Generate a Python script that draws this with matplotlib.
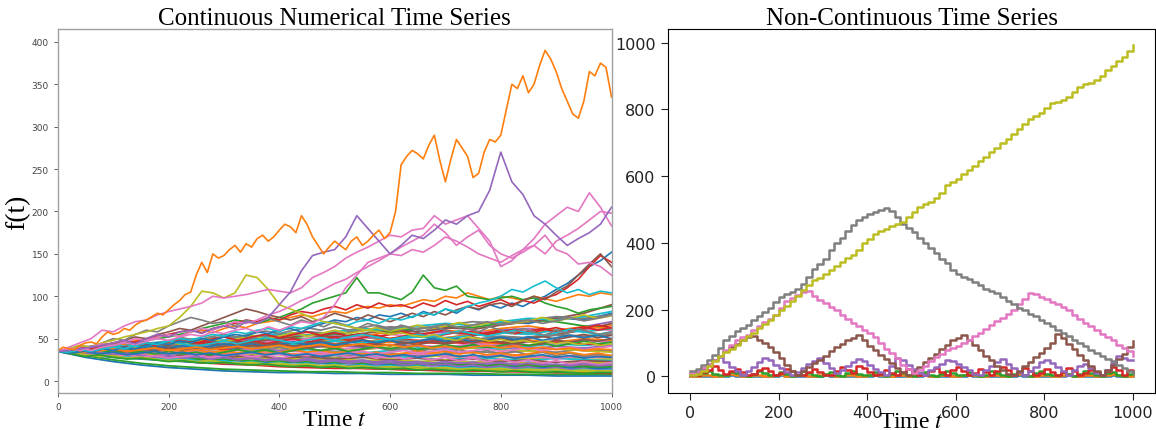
import numpy as np
import matplotlib
matplotlib.use("Agg")
import matplotlib.pyplot as plt

plt.rcParams['mathtext.fontset'] = 'stix'
serif = 'Liberation Serif'

# ---------- continuous series (left panel) ----------
t_10 = np.arange(0, 1001, 10)       # 101 samples
t_20 = np.arange(0, 1001, 20)       # 51 samples
t_25 = np.arange(0, 1001, 25)       # 41 samples
t_50 = np.arange(0, 1001, 50)       # 21 samples

# the run-away walk, every 10 steps
walk_orange_top = [36, 40, 38, 37, 42, 45, 46, 44, 52, 58, 55, 57, 62, 60, 66, 70, 72, 76, 80, 78,
                   84, 90, 95, 102, 105, 125, 140, 128, 150, 145, 148, 155, 160, 152, 162, 158, 168, 172, 165, 170,
                   178, 185, 182, 175, 195, 185, 170, 160, 150, 158, 165, 160, 155, 165, 170, 160, 165, 172, 178, 168,
                   175, 200, 255, 265, 272, 268, 262, 278, 290, 260, 235, 262, 285, 275, 265, 240, 245, 270, 285, 282,
                   290, 320, 350, 345, 360, 340, 350, 372, 390, 380, 365, 345, 330, 315, 310, 330, 365, 360, 375, 370,
                   335]

# other highlighted walks, every 20 steps
walk_purple = [35, 36, 38, 40, 42, 45, 48, 44, 50, 55, 52, 58, 60, 56, 62, 65, 62, 70, 68, 75,
               90, 105, 130, 148, 152, 155, 170, 195, 180, 165, 150, 160, 172, 168, 178, 190, 185, 195, 200, 225,
               270, 235, 220, 195, 185, 172, 160, 168, 175, 185, 205]
walk_pink_a = [35, 40, 45, 50, 60, 58, 65, 70, 72, 78, 82, 85, 88, 92, 100, 98, 100, 102, 105, 108,
               106, 104, 110, 122, 128, 135, 145, 152, 158, 165, 172, 170, 178, 180, 195, 185, 190, 195, 180, 165,
               135, 142, 155, 168, 185, 195, 205, 200, 222, 205, 183]
walk_pink_b = [35, 37, 39, 36, 40, 42, 45, 43, 47, 50, 48, 52, 55, 53, 58, 56, 60, 62, 58, 64,
               60, 65, 70, 68, 75, 90, 110, 125, 140, 145, 150, 158, 165, 172, 185, 175, 160, 170, 178, 160,
               150, 145, 152, 160, 172, 155, 150, 138, 140, 135, 125]
walk_pink_c = [35, 38, 36, 40, 44, 42, 46, 50, 48, 52, 55, 53, 58, 62, 60, 65, 70, 68, 72, 78,
               82, 88, 95, 100, 108, 115, 120, 128, 135, 142, 150, 148, 155, 152, 160, 170, 165, 158, 150, 145,
               140, 148, 155, 160, 150, 165, 172, 180, 190, 200, 198]
walk_olive = [35, 38, 42, 40, 45, 48, 52, 55, 58, 62, 65, 75, 88, 106, 104, 98, 104, 125, 122, 108,
              90, 85, 80, 74, 70, 68, 65, 62, 60, 58, 55, 57, 54, 52, 55, 50, 48, 52, 50, 47,
              49, 46, 48, 45, 47, 44, 46, 43, 45, 42, 44]
walk_green = [35, 36, 38, 37, 40, 42, 45, 43, 48, 50, 52, 55, 58, 62, 65, 68, 72, 70, 68, 72,
              75, 80, 85, 92, 96, 100, 104, 122, 104, 104, 100, 96, 105, 125, 110, 107, 112, 100, 98, 96,
              98, 100, 96, 98, 92, 88, 85, 80, 84, 86, 88]
walk_red = [35, 37, 40, 38, 42, 45, 48, 46, 50, 53, 55, 58, 60, 57, 62, 65, 68, 72, 70, 75,
            72, 78, 82, 80, 85, 88, 84, 90, 86, 92, 88, 90, 86, 92, 88, 95, 90, 94, 88, 92,
            96, 90, 95, 92, 98, 102, 110, 120, 135, 148, 140]
walk_brown = [35, 38, 36, 40, 44, 42, 48, 52, 50, 55, 58, 62, 60, 65, 70, 75, 80, 85, 82, 78,
              75, 72, 76, 70, 74, 80, 76, 72, 78, 74, 70, 75, 80, 76, 82, 78, 84, 88, 85, 90,
              92, 88, 95, 100, 96, 105, 112, 125, 138, 150, 135]
walk_cyan = [35, 34, 37, 35, 38, 40, 38, 42, 45, 43, 47, 50, 48, 52, 55, 53, 58, 56, 60, 62,
             58, 64, 62, 66, 70, 68, 65, 70, 72, 68, 74, 72, 76, 80, 78, 85, 82, 88, 92, 95,
             100, 108, 105, 112, 118, 110, 104, 108, 102, 106, 104]
walk_blue = [35, 33, 36, 34, 38, 36, 40, 38, 42, 45, 43, 47, 45, 50, 48, 52, 55, 53, 58, 56,
             60, 62, 58, 64, 68, 72, 70, 75, 72, 78, 76, 80, 75, 82, 78, 85, 80, 88, 84, 90,
             86, 92, 88, 95, 100, 108, 115, 125, 135, 142, 152]
walk_gray = [35, 38, 42, 40, 45, 50, 48, 55, 60, 58, 65, 70, 75, 72, 68, 70, 65, 72, 68, 74,
             70, 66, 72, 68, 64, 70, 66, 62, 68, 64, 60, 66, 62, 58, 64, 60, 56, 62, 58, 64,
             60, 56, 62, 58, 54, 60, 56, 62, 58, 55, 58]
walk_orange_mid = [35, 37, 39, 38, 42, 45, 43, 48, 50, 52, 55, 53, 58, 60, 57, 62, 65, 63, 68, 70,
                   72, 75, 78, 76, 80, 82, 80, 85, 88, 86, 90, 88, 92, 96, 94, 100, 98, 104, 100, 96,
                   100, 98, 95, 100, 97, 94, 98, 102, 100, 104, 102]

highlighted = [
    (walk_blue, 'C0'), (walk_orange_mid, 'C1'), (walk_green, 'C2'), (walk_red, 'C3'),
    (walk_brown, 'C5'), (walk_gray, 'C7'), (walk_cyan, 'C9'), (walk_olive, 'C8'),
    (walk_pink_c, 'C6'), (walk_pink_b, 'C6'), (walk_pink_a, 'C6'), (walk_purple, 'C4'),
]

# the dense bundle, every 50 steps
bundle_50 = [
    [35, 28, 23, 19, 16, 14, 12, 11, 10, 10, 9, 9, 8, 8, 8, 7, 7, 7, 6, 6, 6],
    [35, 38, 42, 40, 45, 48, 44, 50, 52, 55, 50, 53, 58, 55, 60, 57, 62, 65, 60, 63, 66],
    [35, 30, 25, 21, 18, 16, 14, 13, 12, 11, 11, 10, 10, 9, 9, 9, 8, 8, 8, 8, 8],
    [35, 33, 30, 28, 25, 22, 20, 19, 17, 16, 15, 15, 14, 13, 13, 12, 12, 11, 11, 10, 10],
    [35, 40, 38, 44, 42, 48, 46, 50, 47, 45, 50, 52, 48, 55, 58, 54, 60, 62, 58, 64, 70],
    [35, 37, 35, 40, 38, 36, 42, 40, 45, 43, 40, 44, 47, 45, 50, 48, 46, 52, 55, 60, 68],
    [35, 36, 33, 35, 32, 34, 30, 33, 31, 29, 32, 30, 28, 31, 29, 27, 30, 28, 26, 28, 27],
    [35, 38, 36, 40, 43, 41, 46, 44, 48, 50, 47, 52, 49, 53, 51, 55, 52, 50, 54, 52, 55],
    [35, 34, 36, 33, 35, 32, 34, 31, 33, 30, 32, 29, 31, 28, 30, 27, 29, 26, 28, 25, 26],
    [35, 33, 30, 32, 29, 31, 28, 30, 27, 29, 26, 28, 30, 27, 25, 28, 26, 24, 27, 25, 24],
    [35, 39, 42, 45, 43, 48, 52, 50, 55, 58, 54, 60, 63, 58, 62, 66, 70, 68, 75, 72, 80],
    [35, 33, 36, 34, 38, 36, 40, 38, 42, 40, 44, 42, 46, 44, 48, 46, 44, 48, 46, 50, 48],
    [35, 37, 40, 38, 42, 45, 43, 48, 52, 50, 55, 60, 58, 62, 65, 63, 68, 72, 70, 65, 62],
    [35, 36, 34, 38, 36, 40, 43, 41, 45, 43, 47, 45, 50, 48, 46, 44, 42, 40, 38, 36, 35],
    [35, 32, 29, 27, 25, 24, 22, 21, 20, 19, 18, 18, 17, 16, 16, 15, 15, 14, 14, 13, 13],
    [35, 34, 31, 29, 30, 28, 26, 27, 25, 24, 25, 23, 22, 23, 21, 20, 21, 19, 18, 19, 18],
    [35, 38, 41, 39, 43, 41, 45, 48, 46, 50, 53, 51, 55, 52, 56, 59, 57, 61, 58, 62, 60],
    [35, 33, 35, 32, 30, 33, 31, 29, 32, 30, 28, 31, 33, 30, 32, 35, 33, 36, 34, 38, 36],
    [35, 37, 34, 38, 35, 39, 42, 40, 38, 41, 39, 37, 40, 38, 36, 39, 37, 35, 38, 36, 34],
    [35, 32, 34, 36, 33, 35, 38, 36, 34, 37, 35, 33, 36, 39, 37, 40, 38, 41, 44, 42, 45],
    [35, 31, 28, 26, 24, 22, 21, 20, 19, 18, 17, 17, 16, 16, 15, 15, 14, 14, 13, 13, 12],
    [35, 37, 35, 33, 36, 34, 32, 35, 33, 31, 34, 32, 30, 33, 31, 29, 32, 30, 28, 31, 29],
    [35, 34, 32, 30, 28, 27, 26, 24, 23, 22, 21, 21, 20, 19, 19, 18, 18, 17, 17, 16, 16],
    [35, 38, 36, 34, 38, 40, 37, 42, 45, 43, 40, 44, 42, 46, 44, 48, 45, 42, 46, 44, 42],
    [35, 33, 31, 33, 30, 28, 30, 27, 25, 27, 24, 23, 25, 22, 21, 23, 20, 22, 19, 21, 20],
    [35, 37, 40, 43, 41, 45, 48, 46, 50, 54, 52, 56, 60, 58, 63, 61, 66, 70, 74, 80, 90],
    [35, 34, 37, 35, 33, 36, 34, 38, 36, 34, 37, 40, 38, 42, 40, 44, 42, 46, 44, 48, 46],
    [35, 36, 39, 42, 45, 48, 52, 50, 55, 58, 56, 60, 64, 62, 66, 70, 68, 72, 76, 74, 78],
    [35, 33, 30, 32, 29, 27, 29, 26, 28, 25, 27, 24, 26, 23, 25, 22, 24, 21, 23, 22, 21],
    [35, 38, 41, 44, 47, 50, 48, 53, 56, 54, 58, 62, 60, 65, 68, 66, 70, 74, 72, 76, 82],
    [35, 34, 30, 28, 27, 26, 25, 23, 22, 22, 21, 20, 19, 19, 18, 17, 17, 16, 16, 15, 15],
    [35, 36, 38, 36, 40, 38, 42, 44, 41, 45, 48, 46, 50, 53, 51, 55, 58, 56, 60, 64, 62],
    [35, 33, 31, 29, 28, 26, 25, 24, 23, 23, 22, 21, 21, 20, 20, 19, 19, 18, 18, 17, 17],
    [35, 32, 30, 27, 25, 23, 21, 20, 18, 17, 16, 15, 14, 13, 12, 12, 11, 11, 10, 10, 9],
    [35, 37, 34, 36, 39, 37, 40, 38, 36, 39, 42, 40, 43, 41, 39, 42, 40, 38, 41, 39, 42],
    [35, 33, 31, 30, 29, 31, 28, 30, 27, 29, 26, 28, 25, 27, 24, 26, 23, 25, 22, 24, 23],
    [35, 36, 34, 32, 35, 33, 31, 34, 32, 30, 33, 31, 29, 32, 30, 28, 31, 29, 27, 30, 28],
    [35, 37, 39, 37, 41, 39, 43, 41, 45, 43, 47, 45, 49, 47, 51, 49, 53, 51, 55, 53, 57],
    [35, 32, 29, 27, 25, 23, 22, 20, 19, 18, 17, 16, 15, 15, 14, 14, 13, 12, 12, 11, 11],
    [35, 37, 36, 39, 37, 41, 39, 43, 41, 45, 47, 45, 49, 52, 50, 54, 57, 55, 60, 58, 62],
]

# more bundle walks, every 25 steps
bundle_25 = [
    [35, 37, 34, 38, 36, 40, 37, 41, 44, 40, 43, 46, 42, 45, 48, 44, 47, 50, 46, 49, 52, 48, 51, 54, 50, 53, 56, 52, 55, 58, 54, 57, 60, 56, 59, 62, 58, 61, 64, 60, 63],
    [35, 33, 35, 31, 33, 29, 31, 28, 30, 27, 29, 26, 28, 25, 27, 24, 26, 23, 25, 22, 24, 21, 23, 20, 22, 19, 21, 18, 20, 17, 19, 16, 18, 15, 17, 14, 16, 13, 15, 12, 14],
    [35, 38, 35, 39, 36, 40, 43, 39, 42, 45, 41, 44, 40, 43, 46, 42, 45, 41, 44, 47, 43, 46, 49, 45, 48, 44, 47, 50, 46, 49, 52, 48, 51, 47, 50, 53, 49, 52, 55, 51, 54],
    [35, 32, 34, 30, 33, 29, 32, 28, 31, 27, 30, 26, 29, 32, 28, 31, 27, 30, 33, 29, 32, 28, 31, 27, 30, 26, 29, 25, 28, 24, 27, 23, 26, 22, 25, 21, 24, 20, 23, 19, 22],
    [35, 37, 40, 36, 39, 42, 38, 41, 44, 40, 43, 39, 42, 38, 41, 37, 40, 36, 39, 35, 38, 34, 37, 40, 36, 39, 35, 38, 34, 37, 33, 36, 32, 35, 31, 34, 30, 33, 29, 32, 30],
    [35, 34, 38, 35, 39, 42, 39, 43, 46, 43, 47, 50, 46, 50, 54, 50, 53, 57, 53, 56, 60, 56, 59, 63, 59, 62, 66, 62, 65, 69, 65, 68, 72, 68, 71, 75, 71, 74, 78, 74, 77],
    [35, 33, 31, 33, 30, 28, 30, 27, 25, 27, 24, 22, 24, 21, 23, 20, 22, 19, 21, 18, 20, 17, 19, 17, 18, 16, 18, 15, 17, 15, 16, 14, 16, 13, 15, 13, 14, 12, 14, 12, 13],
    [35, 36, 33, 36, 39, 36, 39, 42, 39, 42, 38, 41, 44, 41, 44, 40, 43, 46, 43, 46, 42, 45, 48, 45, 48, 44, 47, 50, 47, 50, 46, 49, 52, 49, 52, 48, 51, 54, 51, 54, 50],
    [35, 37, 35, 37, 34, 36, 33, 35, 38, 35, 37, 34, 36, 33, 35, 32, 34, 37, 34, 36, 33, 35, 32, 34, 31, 33, 36, 33, 35, 32, 34, 31, 33, 30, 32, 35, 32, 34, 31, 33, 30],
    [35, 33, 36, 33, 36, 33, 35, 32, 35, 32, 34, 31, 34, 37, 34, 37, 33, 36, 39, 36, 39, 35, 38, 41, 38, 41, 37, 40, 43, 40, 43, 39, 42, 45, 42, 45, 41, 44, 47, 44, 46],
    [35, 36, 38, 41, 38, 42, 45, 42, 46, 49, 45, 49, 52, 48, 52, 55, 51, 55, 58, 54, 57, 53, 56, 52, 55, 58, 54, 57, 60, 56, 59, 55, 58, 61, 57, 60, 63, 59, 62, 66, 63],
    [35, 34, 32, 34, 31, 33, 30, 28, 30, 27, 29, 26, 28, 26, 27, 25, 27, 24, 26, 24, 25, 23, 25, 22, 24, 22, 23, 21, 23, 21, 22, 20, 22, 19, 21, 19, 20, 18, 20, 18, 19],
    [35, 37, 36, 39, 37, 35, 38, 36, 39, 37, 40, 38, 41, 39, 42, 40, 43, 41, 39, 42, 40, 43, 41, 44, 42, 45, 43, 46, 44, 47, 45, 48, 46, 44, 47, 45, 48, 46, 49, 47, 50],
    [35, 33, 30, 32, 29, 31, 28, 30, 27, 29, 31, 28, 30, 32, 29, 31, 33, 30, 32, 34, 31, 33, 35, 32, 34, 36, 33, 35, 37, 34, 36, 38, 35, 37, 39, 36, 38, 40, 37, 39, 41],
    [35, 38, 40, 43, 41, 44, 47, 44, 48, 51, 48, 52, 55, 52, 56, 59, 56, 60, 63, 60, 64, 60, 63, 66, 62, 65, 61, 64, 67, 63, 66, 70, 66, 69, 72, 68, 71, 75, 71, 74, 78],
    [35, 34, 31, 29, 30, 27, 28, 26, 24, 25, 23, 24, 22, 21, 22, 20, 21, 19, 20, 18, 19, 17, 18, 16, 17, 16, 17, 15, 16, 14, 15, 14, 15, 13, 14, 13, 14, 12, 13, 12, 12],
    [35, 36, 39, 37, 40, 43, 40, 44, 47, 44, 41, 44, 47, 44, 48, 51, 48, 45, 48, 51, 48, 52, 55, 52, 49, 52, 55, 52, 56, 59, 56, 53, 56, 60, 57, 54, 57, 61, 58, 55, 58],
    [35, 33, 35, 32, 34, 31, 33, 35, 32, 34, 31, 33, 30, 32, 34, 31, 33, 30, 32, 29, 31, 33, 30, 32, 29, 31, 28, 30, 32, 29, 31, 28, 30, 27, 29, 31, 28, 30, 27, 29, 28],
    [35, 37, 34, 36, 38, 35, 37, 39, 36, 38, 40, 37, 39, 41, 38, 40, 42, 39, 41, 43, 40, 42, 44, 41, 43, 40, 42, 39, 41, 38, 40, 42, 39, 41, 38, 40, 37, 39, 36, 38, 37],
    [35, 32, 29, 31, 28, 26, 27, 25, 23, 24, 22, 21, 22, 20, 19, 20, 18, 17, 18, 16, 17, 15, 16, 15, 14, 15, 13, 14, 13, 12, 13, 12, 11, 12, 11, 10, 11, 10, 9, 10, 10],
]

# ---------- step series (right panel) ----------
t_step = np.arange(0, 1000.1, 12.5)   # 81 samples

step_blue = [0, 1, 0, 2, 0, 0, 1, 3, 1, 0, 0, 2, 1, 0, 0, 1, 3, 0, 0, 2,
             1, 0, 0, 2, 3, 1, 0, 0, 1, 2, 0, 0, 1, 3, 1, 0, 0, 2, 1, 0,
             0, 1, 3, 0, 0, 2, 1, 0, 0, 1, 3, 1, 0, 0, 2, 1, 0, 0, 1, 3,
             1, 0, 0, 2, 1, 0, 0, 1, 3, 0, 0, 2, 1, 0, 0, 1, 3, 1, 0, 0, 2]
step_orange = [2, 0, 3, 5, 2, 0, 4, 6, 3, 0, 2, 5, 3, 0, 1, 4, 6, 2, 0, 3,
               5, 2, 0, 3, 6, 4, 1, 0, 3, 5, 2, 0, 4, 6, 3, 0, 2, 5, 3, 0,
               1, 4, 6, 2, 0, 3, 5, 2, 0, 3, 6, 4, 1, 0, 3, 5, 2, 0, 4, 6,
               3, 0, 2, 5, 3, 0, 1, 4, 6, 2, 0, 3, 5, 2, 0, 3, 6, 4, 1, 0, 3]
step_green = [3, 5, 10, 15, 8, 3, 5, 12, 10, 3, 2, 8, 15, 10, 3, 5, 12, 8, 2, 5,
              15, 10, 3, 2, 8, 12, 5, 2, 10, 15, 8, 3, 5, 12, 6, 2, 8, 15, 10, 3,
              2, 10, 12, 5, 2, 8, 15, 10, 3, 5, 12, 8, 2, 5, 15, 10, 3, 2, 8, 12,
              5, 2, 10, 15, 8, 3, 5, 12, 6, 2, 8, 15, 10, 3, 2, 10, 12, 5, 2, 8, 12]
step_red = [5, 3, 12, 20, 30, 18, 8, 15, 22, 12, 3, 8, 18, 25, 15, 5, 10, 22, 15, 5,
            3, 12, 22, 12, 3, 5, 15, 28, 18, 10, 30, 25, 12, 3, 8, 20, 10, 3, 12, 22,
            10, 3, 5, 15, 25, 12, 3, 18, 28, 15, 5, 10, 22, 12, 3, 15, 28, 18, 5, 12,
            25, 15, 3, 10, 22, 12, 3, 12, 25, 15, 5, 10, 20, 12, 3, 15, 28, 18, 5, 20, 15]
step_purple = [5, 12, 25, 38, 48, 58, 42, 28, 15, 5, 15, 28, 42, 55, 48, 35, 25, 12, 5, 12,
               25, 38, 45, 55, 40, 25, 10, 18, 32, 42, 52, 45, 35, 22, 12, 5, 30, 55, 50, 35,
               22, 10, 5, 18, 28, 38, 50, 45, 38, 28, 18, 8, 5, 18, 30, 42, 52, 38, 25, 12,
               5, 15, 28, 42, 50, 40, 28, 15, 5, 18, 32, 38, 25, 10, 5, 20, 40, 60, 55, 50, 50]
step_brown = [5, 10, 22, 35, 48, 62, 75, 88, 98, 108, 118, 120, 110, 100, 88, 72, 55, 35, 15, 5,
              15, 28, 40, 50, 62, 75, 88, 98, 108, 115, 125, 108, 92, 78, 65, 52, 40, 25, 12, 5,
              15, 28, 42, 55, 68, 82, 95, 108, 115, 125, 110, 95, 78, 62, 48, 32, 18, 8, 5, 15,
              30, 42, 58, 70, 85, 100, 128, 115, 98, 82, 65, 48, 30, 15, 5, 18, 35, 52, 68, 88, 105]
step_pink = [10, 15, 25, 38, 50, 62, 80, 95, 108, 118, 125, 138, 150, 162, 172, 185, 205, 225, 235, 242,
             252, 255, 240, 228, 218, 208, 198, 185, 172, 160, 150, 138, 130, 118, 100, 82, 70, 55, 35, 22,
             10, 18, 30, 45, 58, 68, 78, 85, 92, 100, 110, 120, 130, 142, 155, 165, 175, 188, 198, 215,
             232, 250, 245, 238, 230, 222, 215, 208, 198, 185, 172, 160, 150, 138, 128, 118, 108, 95, 85, 75, 60]
step_gray = [15, 22, 35, 50, 65, 85, 110, 122, 135, 145, 155, 168, 180, 192, 205, 222, 238, 245, 252, 262,
             275, 298, 322, 335, 350, 378, 398, 415, 435, 452, 468, 478, 485, 492, 498, 505, 495, 478, 455, 445,
             432, 415, 400, 385, 370, 352, 338, 318, 305, 298, 290, 282, 272, 262, 255, 248, 238, 225, 215, 205,
             198, 188, 180, 170, 160, 150, 140, 130, 122, 110, 100, 90, 80, 70, 62, 52, 45, 35, 25, 15, 10]
step_olive = [5, 8, 15, 30, 45, 62, 72, 82, 95, 108, 120, 130, 145, 158, 170, 185, 200, 210, 225, 240,
              258, 272, 288, 295, 305, 318, 330, 342, 355, 362, 378, 398, 412, 425, 435, 442, 450, 455, 462, 478,
              492, 508, 515, 522, 535, 550, 572, 582, 592, 605, 618, 630, 645, 658, 672, 685, 700, 712, 725, 742,
              755, 772, 780, 790, 805, 818, 822, 828, 838, 852, 868, 875, 880, 888, 900, 918, 930, 945, 958, 975, 992]

steps = [step_blue, step_orange, step_green, step_red, step_purple,
         step_brown, step_pink, step_gray, step_olive]
step_colors = ['C0', 'C1', 'C2', 'C3', 'C4', 'C5', 'C6', 'C7', 'C8']

fig = plt.figure(figsize=(11.56, 4.31), dpi=100)
ax1 = fig.add_axes([0.050, 0.086, 0.479, 0.844])
ax2 = fig.add_axes([0.578, 0.086, 0.421, 0.844])

# left: continuous walks
for i, vals in enumerate(bundle_50):
    ax1.plot(t_50, vals, color=f'C{i % 10}', lw=1.3)
for i, vals in enumerate(bundle_25):
    ax1.plot(t_25, vals, color=f'C{(i + 3) % 10}', lw=1.3)
for vals, c in highlighted:
    ax1.plot(t_20, vals, color=c, lw=1.2)
ax1.plot(t_10, walk_orange_top, color='C1', lw=1.2)

ax1.set_xlim(0, 1000)
ax1.set_ylim(-14, 415)
ax1.set_xticks([0, 200, 400, 600, 800, 1000])
ax1.set_yticks(range(0, 401, 50))
ax1.tick_params(labelsize=6.5, colors='#444444', length=3, width=0.6)
for s in ax1.spines.values():
    s.set_color('#a0a0a0')
    s.set_linewidth(1.0)
ax1.set_title('Continuous Numerical Time Series', fontsize=18, family=serif, pad=4)
ax1.set_ylabel('f(t)', fontsize=20, family=serif)
ax1.set_xlabel('Time $t$', fontsize=17, family=serif)
ax1.xaxis.set_label_coords(0.5, -0.045)
ax1.yaxis.set_label_coords(-0.05, 0.5)

# right: step walks
for vals, c in zip(steps, step_colors):
    ax2.plot(t_step, vals, color=c, lw=1.8, drawstyle='steps-post')

ax2.set_xlim(-50, 1050)
ax2.set_ylim(-50, 1040)
ax2.set_xticks([0, 200, 400, 600, 800, 1000])
ax2.set_yticks([0, 200, 400, 600, 800, 1000])
ax2.tick_params(labelsize=11.5, colors='#222222', length=5, pad=4)
for s in ax2.spines.values():
    s.set_color('black')
ax2.set_title('Non-Continuous Time Series', fontsize=18, family=serif, pad=4)
ax2.set_xlabel('Time $t$', fontsize=17, family=serif)
ax2.xaxis.set_label_coords(0.5, -0.05)

fig.savefig('out.png', dpi=100)
